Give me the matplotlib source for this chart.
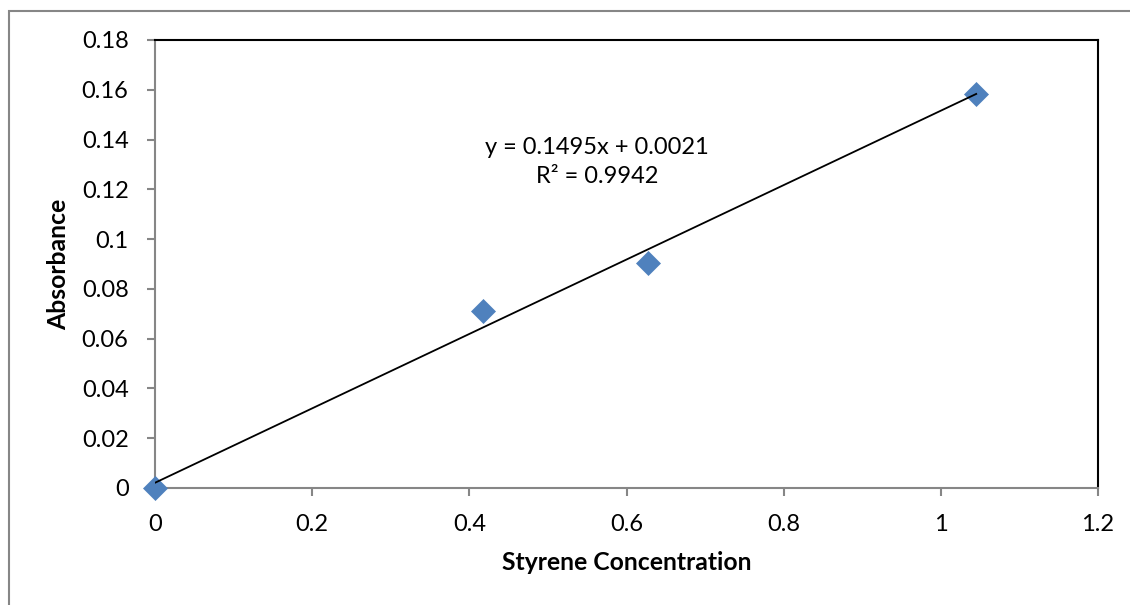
# styrene calibration curve, excel-style scatter with linear trendline
import numpy as np
import matplotlib
matplotlib.use('Agg')
import matplotlib.pyplot as plt
from matplotlib.patches import Rectangle

# data
conc = [0, 0.418, 0.627, 1.045]
absorb = [0, 0.071, 0.0905, 0.1585]
slope = 0.1495
intercept = 0.0021
r2 = 0.9942

x_ticks = [0, 0.2, 0.4, 0.6, 0.8, 1, 1.2]
x_labels = ['0', '0.2', '0.4', '0.6', '0.8', '1', '1.2']
y_ticks = [0, 0.02, 0.04, 0.06, 0.08, 0.1, 0.12, 0.14, 0.16, 0.18]
y_labels = ['0', '0.02', '0.04', '0.06', '0.08', '0.1', '0.12', '0.14', '0.16', '0.18']

plt.rcParams['font.family'] = ['Lato', 'DejaVu Sans']
gray = '#868686'

fig = plt.figure(figsize=(11.3, 6.05), dpi=100)
ax = fig.add_axes([155/1130, 1 - 488/605, 943/1130, 448/605])

# outer chart-area frame (only left/top edges fall inside the image)
fig.add_artist(Rectangle((9/1130, -0.1), 2, 1 - 11/605 + 0.1, transform=fig.transFigure,
                         fill=False, ec=gray, lw=1.5))

ax.plot(conc, absorb, 'D', color='#4F81BD', ms=12, mec='#4F81BD', mew=0.5, zorder=3,
        clip_on=False)

# trendline over the data range
xs = np.array([min(conc), max(conc)])
ax.plot(xs, slope * xs + intercept, color='black', lw=1.3, zorder=4)

ax.text((597 - 155) / 943 * 1.2, (488 - 162) / 448 * 0.18,
        'y = %.4fx + %.4f\nR² = %.4f' % (slope, intercept, r2),
        ha='center', va='center', fontsize=17, linespacing=1.5, multialignment='center')

ax.set_xlim(0, 1.2)
ax.set_ylim(0, 0.18)
ax.set_xticks(x_ticks, x_labels)
ax.set_yticks(y_ticks, y_labels)
ax.tick_params(direction='out', length=6, width=1.5, color=gray, pad=13,
               labelsize=17, labelcolor='black')

for side in ['left', 'bottom']:
    ax.spines[side].set_color(gray)
    ax.spines[side].set_linewidth(1.5)
for side in ['top', 'right']:
    ax.spines[side].set_color('black')
    ax.spines[side].set_linewidth(1.5)

ax.set_xlabel('Styrene Concentration', fontsize=17.8, fontweight='bold')
ax.xaxis.label.set_va('center')
ax.xaxis.set_label_coords(0.5, (488 - 563) / 448)
ax.set_ylabel('Absorbance', fontsize=17.8, fontweight='bold')
ax.yaxis.label.set_va('center')
ax.yaxis.set_label_coords((59 - 155) / 943, 0.5)

fig.savefig('out.png', dpi=100)
